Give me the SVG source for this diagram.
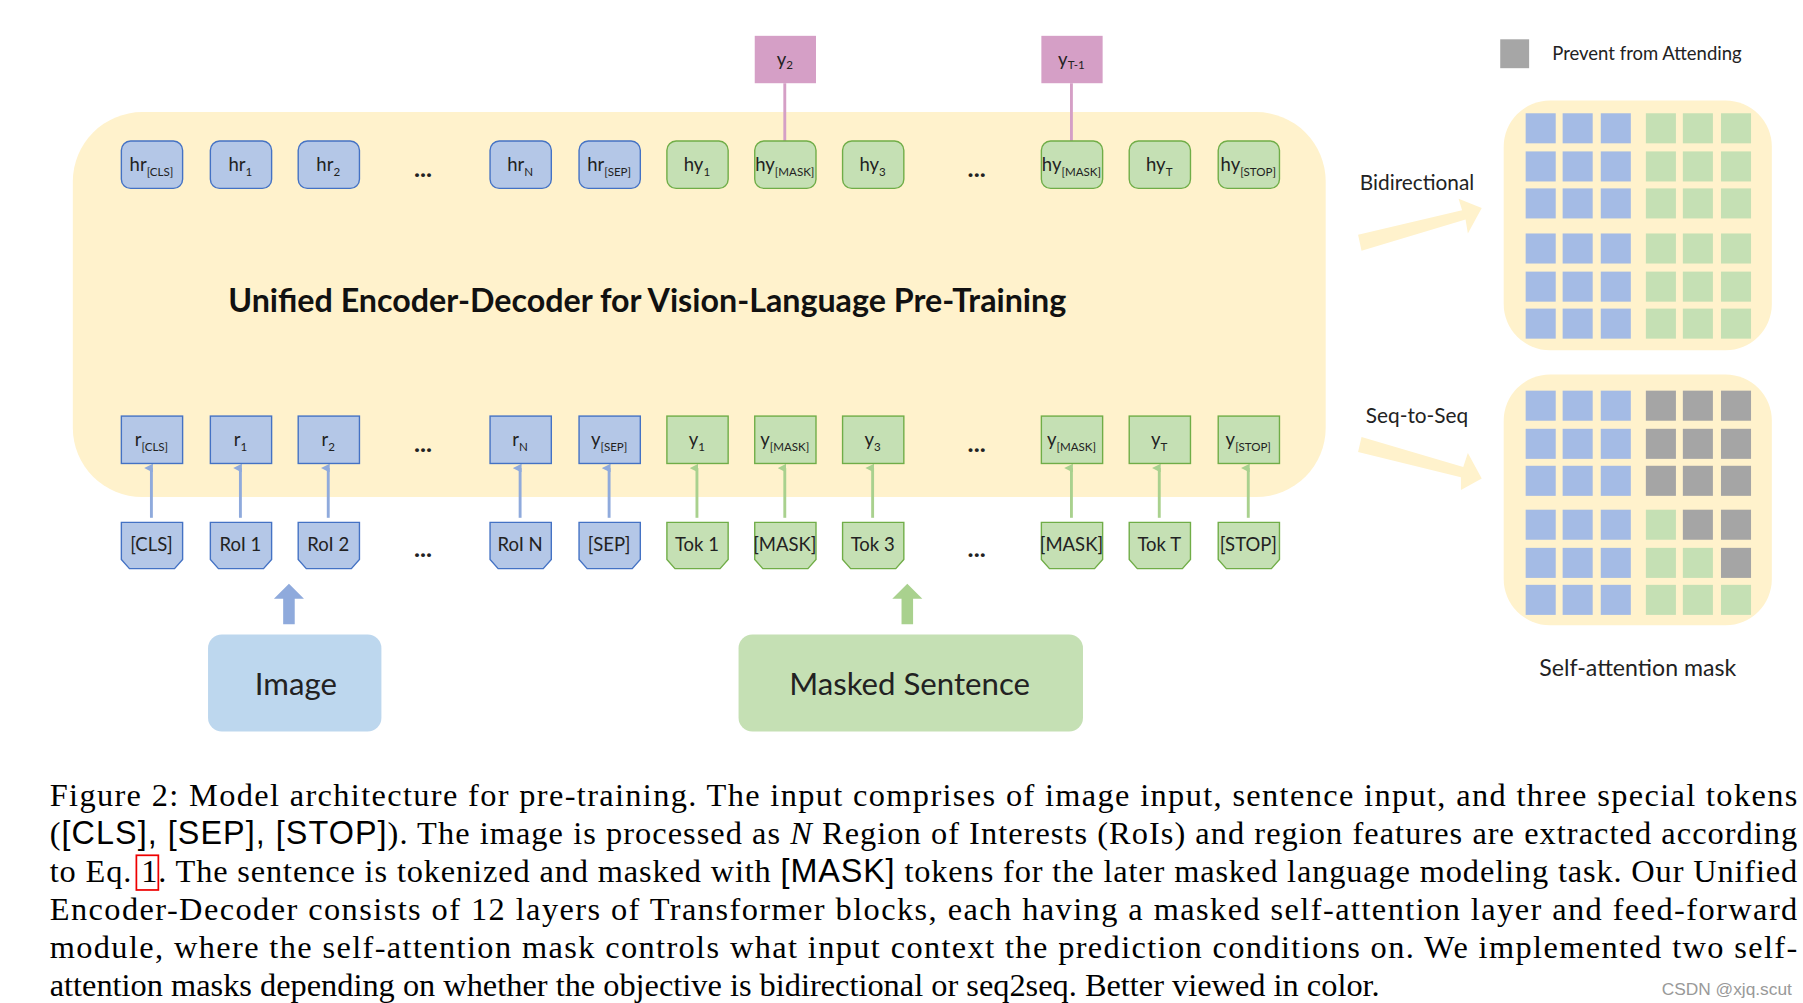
<svg xmlns="http://www.w3.org/2000/svg" width="1803" height="1003" viewBox="0 0 1803 1003">
<style>
.lbl{font-family:Lato,"Open Sans",sans-serif;font-size:16px;fill:#222;text-anchor:middle}
.big{font-size:27px}
.dots{font-size:22px;font-weight:bold}
.sub{font-size:10px}
.bh{fill:#B4C7E7;stroke:#4472C4;stroke-width:1.2}
.gh{fill:#C5E0B4;stroke:#70AD47;stroke-width:1.2}
.bc{stroke:#8FAADC;stroke-width:2.5}
.gc{stroke:#A9D18E;stroke-width:2.5}
.pc{stroke:#D59FC6;stroke-width:2.5}
.cap{font-family:"Liberation Serif",serif;font-size:28px;fill:#000}
.sans{font-family:"Liberation Sans",sans-serif}
.cb{fill:#A4BBE5}.cg{fill:#C5E0B4}.cx{fill:#A5A5A5}
</style>
<defs>
<marker id="ab" viewBox="0 0 6 6" refX="3" refY="5" markerWidth="3" markerHeight="3" orient="auto-start-reverse"><path d="M0,6 L3,0 L6,6Z" fill="#8FAADC"/></marker>
<marker id="ag" viewBox="0 0 6 6" refX="3" refY="5" markerWidth="3" markerHeight="3" orient="auto-start-reverse"><path d="M0,6 L3,0 L6,6Z" fill="#A9D18E"/></marker>
</defs>
<rect width="1803" height="1003" fill="#fff"/>
<g transform="scale(1.1558)">
<rect id="encoder" x="63" y="97" width="1084" height="333" rx="60" fill="#FFF2CC"/>
<text x="560" y="270" font-family="Lato,'Open Sans',sans-serif" font-weight="bold" font-size="28" text-anchor="middle" fill="#111" textLength="725" lengthAdjust="spacingAndGlyphs">Unified Encoder-Decoder for Vision-Language Pre-Training</text>

<g id="connectors">
<line class="pc" x1="679" y1="122" x2="679" y2="72"/>
<line class="pc" x1="927" y1="122" x2="927" y2="72"/>
<g class="bc" marker-end="url(#ab)">
<line x1="131" y1="448" x2="131" y2="405"/><line x1="208" y1="448" x2="208" y2="405"/><line x1="284" y1="448" x2="284" y2="405"/><line x1="450" y1="448" x2="450" y2="405"/><line x1="527" y1="448" x2="527" y2="405"/>
</g>
<g class="gc" marker-end="url(#ag)">
<line x1="603" y1="448" x2="603" y2="405"/><line x1="679" y1="448" x2="679" y2="405"/><line x1="755" y1="448" x2="755" y2="405"/><line x1="927" y1="448" x2="927" y2="405"/><line x1="1003" y1="448" x2="1003" y2="405"/><line x1="1080" y1="448" x2="1080" y2="405"/>
</g>
<polygon points="245,540 255,540 255,518 263,518 250,505 237,518 245,518" fill="#8FAADC"/>
<polygon points="780,540 790,540 790,518 798,518 785,505 772,518 780,518" fill="#A9D18E"/>
<polygon points="1175,203 1178,217 1268,190 1270,202 1282,180 1262,172 1265,182" fill="#FFF2CC"/>
<polygon points="1175,391 1178,378 1266,404 1270,392 1282,414 1264,424 1264,413" fill="#FFF2CC"/>
</g>

<g id="pink"><rect x="653" y="31" width="53" height="41" fill="#D59FC6"/><text class="lbl" x="679" y="57">y<tspan class="sub" dy="3">2</tspan></text>
<rect x="901" y="31" width="53" height="41" fill="#D59FC6"/><text class="lbl" x="927" y="57">y<tspan class="sub" dy="3">T-1</tspan></text></g>

<g id="top-row">
<rect class="bh" x="105" y="122" width="53" height="41" rx="8"/><text class="lbl" x="131" y="148">hr<tspan class="sub" dy="4">[CLS]</tspan></text>
<rect class="bh" x="182" y="122" width="53" height="41" rx="8"/><text class="lbl" x="208" y="148">hr<tspan class="sub" dy="4">1</tspan></text>
<rect class="bh" x="258" y="122" width="53" height="41" rx="8"/><text class="lbl" x="284" y="148">hr<tspan class="sub" dy="4">2</tspan></text>
<text class="lbl dots" x="366" y="153">...</text>
<rect class="bh" x="424" y="122" width="53" height="41" rx="8"/><text class="lbl" x="450" y="148">hr<tspan class="sub" dy="4">N</tspan></text>
<rect class="bh" x="501" y="122" width="53" height="41" rx="8"/><text class="lbl" x="527" y="148">hr<tspan class="sub" dy="4">[SEP]</tspan></text>
<rect class="gh" x="577" y="122" width="53" height="41" rx="8"/><text class="lbl" x="603" y="148">hy<tspan class="sub" dy="4">1</tspan></text>
<rect class="gh" x="653" y="122" width="53" height="41" rx="8"/><text class="lbl" x="679" y="148">hy<tspan class="sub" dy="4">[MASK]</tspan></text>
<rect class="gh" x="729" y="122" width="53" height="41" rx="8"/><text class="lbl" x="755" y="148">hy<tspan class="sub" dy="4">3</tspan></text>
<text class="lbl dots" x="845" y="153">...</text>
<rect class="gh" x="901" y="122" width="53" height="41" rx="8"/><text class="lbl" x="927" y="148">hy<tspan class="sub" dy="4">[MASK]</tspan></text>
<rect class="gh" x="977" y="122" width="53" height="41" rx="8"/><text class="lbl" x="1003" y="148">hy<tspan class="sub" dy="4">T</tspan></text>
<rect class="gh" x="1054" y="122" width="53" height="41" rx="8"/><text class="lbl" x="1080" y="148">hy<tspan class="sub" dy="4">[STOP]</tspan></text>
</g>

<g id="mid-row">
<rect class="bh" x="105" y="360" width="53" height="41"/><text class="lbl" x="131" y="386">r<tspan class="sub" dy="4">[CLS]</tspan></text>
<rect class="bh" x="182" y="360" width="53" height="41"/><text class="lbl" x="208" y="386">r<tspan class="sub" dy="4">1</tspan></text>
<rect class="bh" x="258" y="360" width="53" height="41"/><text class="lbl" x="284" y="386">r<tspan class="sub" dy="4">2</tspan></text>
<text class="lbl dots" x="366" y="391">...</text>
<rect class="bh" x="424" y="360" width="53" height="41"/><text class="lbl" x="450" y="386">r<tspan class="sub" dy="4">N</tspan></text>
<rect class="bh" x="501" y="360" width="53" height="41"/><text class="lbl" x="527" y="386">y<tspan class="sub" dy="4">[SEP]</tspan></text>
<rect class="gh" x="577" y="360" width="53" height="41"/><text class="lbl" x="603" y="386">y<tspan class="sub" dy="4">1</tspan></text>
<rect class="gh" x="653" y="360" width="53" height="41"/><text class="lbl" x="679" y="386">y<tspan class="sub" dy="4">[MASK]</tspan></text>
<rect class="gh" x="729" y="360" width="53" height="41"/><text class="lbl" x="755" y="386">y<tspan class="sub" dy="4">3</tspan></text>
<text class="lbl dots" x="845" y="391">...</text>
<rect class="gh" x="901" y="360" width="53" height="41"/><text class="lbl" x="927" y="386">y<tspan class="sub" dy="4">[MASK]</tspan></text>
<rect class="gh" x="977" y="360" width="53" height="41"/><text class="lbl" x="1003" y="386">y<tspan class="sub" dy="4">T</tspan></text>
<rect class="gh" x="1054" y="360" width="53" height="41"/><text class="lbl" x="1080" y="386">y<tspan class="sub" dy="4">[STOP]</tspan></text>
</g>

<g id="input-row">
<path class="bh" d="M105,452 h53 v32 l-7,8 h-39 l-7,-8z"/><text class="lbl" x="131" y="477">[CLS]</text>
<path class="bh" d="M182,452 h53 v32 l-7,8 h-39 l-7,-8z"/><text class="lbl" x="208" y="477">RoI 1</text>
<path class="bh" d="M258,452 h53 v32 l-7,8 h-39 l-7,-8z"/><text class="lbl" x="284" y="477">RoI 2</text>
<text class="lbl dots" x="366" y="482">...</text>
<path class="bh" d="M424,452 h53 v32 l-7,8 h-39 l-7,-8z"/><text class="lbl" x="450" y="477">RoI N</text>
<path class="bh" d="M501,452 h53 v32 l-7,8 h-39 l-7,-8z"/><text class="lbl" x="527" y="477">[SEP]</text>
<path class="gh" d="M577,452 h53 v32 l-7,8 h-39 l-7,-8z"/><text class="lbl" x="603" y="477">Tok 1</text>
<path class="gh" d="M653,452 h53 v32 l-7,8 h-39 l-7,-8z"/><text class="lbl" x="679" y="477">[MASK]</text>
<path class="gh" d="M729,452 h53 v32 l-7,8 h-39 l-7,-8z"/><text class="lbl" x="755" y="477">Tok 3</text>
<text class="lbl dots" x="845" y="482">...</text>
<path class="gh" d="M901,452 h53 v32 l-7,8 h-39 l-7,-8z"/><text class="lbl" x="927" y="477">[MASK]</text>
<path class="gh" d="M977,452 h53 v32 l-7,8 h-39 l-7,-8z"/><text class="lbl" x="1003" y="477">Tok T</text>
<path class="gh" d="M1054,452 h53 v32 l-7,8 h-39 l-7,-8z"/><text class="lbl" x="1080" y="477">[STOP]</text>
</g>

<g id="image"><rect x="180" y="549" width="150" height="84" rx="12" fill="#BDD7EE"/><text class="lbl big" x="256" y="601">Image</text></g>
<g id="sentence"><rect x="639" y="549" width="298" height="84" rx="12" fill="#C5E0B4"/><text class="lbl big" x="787" y="601">Masked Sentence</text></g>

<g id="legend"><rect x="1298" y="34" width="25" height="25" fill="#A6A6A6"/><text class="lbl" x="1343" y="52" style="text-anchor:start">Prevent from Attending</text></g>
<text class="lbl" x="1226" y="164" style="font-size:18px">Bidirectional</text>
<text class="lbl" x="1226" y="366" style="font-size:18px">Seq-to-Seq</text>
<text class="lbl" x="1417" y="585" style="font-size:20px">Self-attention mask</text>

<g id="mask-bi">
<rect x="1301" y="87" width="232" height="216" rx="40" fill="#FFF2CC"/>
<g class="cb">
<rect x="1320" y="98" width="26" height="26"/><rect x="1352" y="98" width="26" height="26"/><rect x="1385" y="98" width="26" height="26"/>
<rect x="1320" y="131" width="26" height="26"/><rect x="1352" y="131" width="26" height="26"/><rect x="1385" y="131" width="26" height="26"/>
<rect x="1320" y="163" width="26" height="26"/><rect x="1352" y="163" width="26" height="26"/><rect x="1385" y="163" width="26" height="26"/>
<rect x="1320" y="202" width="26" height="26"/><rect x="1352" y="202" width="26" height="26"/><rect x="1385" y="202" width="26" height="26"/>
<rect x="1320" y="235" width="26" height="26"/><rect x="1352" y="235" width="26" height="26"/><rect x="1385" y="235" width="26" height="26"/>
<rect x="1320" y="267" width="26" height="26"/><rect x="1352" y="267" width="26" height="26"/><rect x="1385" y="267" width="26" height="26"/>
</g>
<g class="cg">
<rect x="1424" y="98" width="26" height="26"/><rect x="1456" y="98" width="26" height="26"/><rect x="1489" y="98" width="26" height="26"/>
<rect x="1424" y="131" width="26" height="26"/><rect x="1456" y="131" width="26" height="26"/><rect x="1489" y="131" width="26" height="26"/>
<rect x="1424" y="163" width="26" height="26"/><rect x="1456" y="163" width="26" height="26"/><rect x="1489" y="163" width="26" height="26"/>
<rect x="1424" y="202" width="26" height="26"/><rect x="1456" y="202" width="26" height="26"/><rect x="1489" y="202" width="26" height="26"/>
<rect x="1424" y="235" width="26" height="26"/><rect x="1456" y="235" width="26" height="26"/><rect x="1489" y="235" width="26" height="26"/>
<rect x="1424" y="267" width="26" height="26"/><rect x="1456" y="267" width="26" height="26"/><rect x="1489" y="267" width="26" height="26"/>
</g>
</g>

<g id="mask-s2s">
<rect x="1301" y="324" width="232" height="217" rx="40" fill="#FFF2CC"/>
<g class="cb">
<rect x="1320" y="338" width="26" height="26"/><rect x="1352" y="338" width="26" height="26"/><rect x="1385" y="338" width="26" height="26"/>
<rect x="1320" y="371" width="26" height="26"/><rect x="1352" y="371" width="26" height="26"/><rect x="1385" y="371" width="26" height="26"/>
<rect x="1320" y="403" width="26" height="26"/><rect x="1352" y="403" width="26" height="26"/><rect x="1385" y="403" width="26" height="26"/>
<rect x="1320" y="441" width="26" height="26"/><rect x="1352" y="441" width="26" height="26"/><rect x="1385" y="441" width="26" height="26"/>
<rect x="1320" y="474" width="26" height="26"/><rect x="1352" y="474" width="26" height="26"/><rect x="1385" y="474" width="26" height="26"/>
<rect x="1320" y="506" width="26" height="26"/><rect x="1352" y="506" width="26" height="26"/><rect x="1385" y="506" width="26" height="26"/>
</g>
<g class="cx">
<rect x="1424" y="338" width="26" height="26"/><rect x="1456" y="338" width="26" height="26"/><rect x="1489" y="338" width="26" height="26"/>
<rect x="1424" y="371" width="26" height="26"/><rect x="1456" y="371" width="26" height="26"/><rect x="1489" y="371" width="26" height="26"/>
<rect x="1424" y="403" width="26" height="26"/><rect x="1456" y="403" width="26" height="26"/><rect x="1489" y="403" width="26" height="26"/>
<rect x="1456" y="441" width="26" height="26"/><rect x="1489" y="441" width="26" height="26"/>
<rect x="1489" y="474" width="26" height="26"/>
</g>
<g class="cg">
<rect x="1424" y="441" width="26" height="26"/>
<rect x="1424" y="474" width="26" height="26"/><rect x="1456" y="474" width="26" height="26"/>
<rect x="1424" y="506" width="26" height="26"/><rect x="1456" y="506" width="26" height="26"/><rect x="1489" y="506" width="26" height="26"/>
</g>
</g>

<g id="caption">
<text class="cap" x="43" y="697" textLength="1512" lengthAdjust="spacing">Figure 2: Model architecture for pre-training. The input comprises of image input, sentence input, and three special tokens</text>
<text class="cap" x="43" y="730" textLength="1512" lengthAdjust="spacing">(<tspan class="sans">[CLS], [SEP], [STOP]</tspan>). The image is processed as <tspan font-style="italic">N</tspan> Region of Interests (RoIs) and region features are extracted according</text>
<text class="cap" x="43" y="763" textLength="1512" lengthAdjust="spacing">to Eq. 1. The sentence is tokenized and masked with <tspan class="sans">[MASK]</tspan> tokens for the later masked language modeling task. Our Unified</text>
<rect x="118" y="740" width="19" height="30" fill="none" stroke="#e00" stroke-width="1.5"/>
<text class="cap" x="43" y="796" textLength="1512" lengthAdjust="spacing">Encoder-Decoder consists of 12 layers of Transformer blocks, each having a masked self-attention layer and feed-forward</text>
<text class="cap" x="43" y="829" textLength="1512" lengthAdjust="spacing">module, where the self-attention mask controls what input context the prediction conditions on. We implemented two self-</text>
<text class="cap" x="43" y="862">attention masks depending on whether the objective is bidirectional or seq2seq. Better viewed in color.</text>
<text x="1494" y="861" font-family="'Liberation Sans',sans-serif" font-size="15" fill="#999" text-anchor="middle">CSDN @xjq.scut</text>
</g>
</g>
</svg>
